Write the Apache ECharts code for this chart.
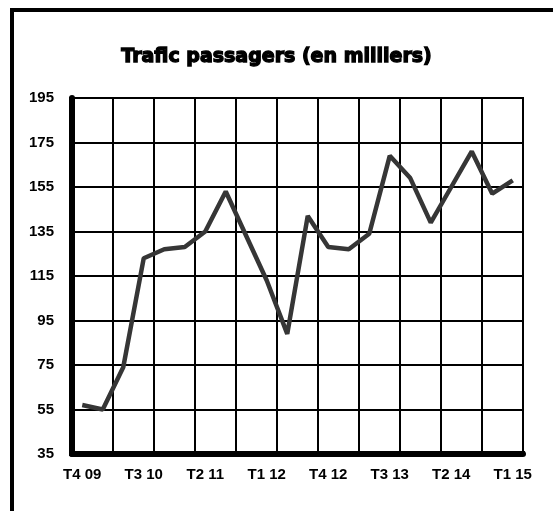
<!DOCTYPE html>
<html>
<head>
<meta charset="utf-8">
<script src="https://cdn.jsdelivr.net/npm/echarts@6/dist/echarts.min.js"></script>
<style>
  html, body { margin: 0; padding: 0; background: #fff; }
  #chart { width: 553px; height: 511px; }
</style>
</head>
<body>
<div id="chart"></div>
<script>
// trimestres T4 09 .. T1 15
const quarters = [
  'T4 09', 'T1 10', 'T2 10', 'T3 10', 'T4 10', 'T1 11', 'T2 11', 'T3 11',
  'T4 11', 'T1 12', 'T2 12', 'T3 12', 'T4 12', 'T1 13', 'T2 13', 'T3 13',
  'T4 13', 'T1 14', 'T2 14', 'T3 14', 'T4 14', 'T1 15'
]
const passengers = [
  57, 55, 74, 123, 127, 128, 135, 153, 133, 113, 89, 142,
  128, 127, 134, 169, 159, 139, 155, 171, 152, 158
]
const yMin = 35
const yMax = 195
const yStep = 20

const chart = echarts.init(document.getElementById('chart'))
const option = {
  animation: false,
  backgroundColor: '#fff',
  title: {
    text: 'Trafic passagers (en milliers)',
    left: 'center',
    top: 43,
    textStyle: {
      fontFamily: 'DejaVu Sans',
      fontWeight: 'bold',
      fontSize: 19,
      color: '#000',
      textBorderColor: '#000',
      textBorderWidth: 1.3
    }
  },
  graphic: [
    {
      type: 'rect',
      shape: { x: 12, y: 10, width: 700, height: 700 },
      style: { fill: 'none', stroke: '#000', lineWidth: 4 },
      silent: true
    }
  ],
  grid: {
    left: 72,
    top: 98,
    width: 451,
    height: 356,
    show: true,
    borderColor: '#000',
    borderWidth: 2
  },
  xAxis: {
    type: 'category',
    boundaryGap: true,
    data: quarters,
    axisLine: { lineStyle: { color: '#000', width: 6 } },
    axisTick: { show: true, inside: true, length: 3, interval: 1, lineStyle: { color: '#000', width: 3 } },
    axisLabel: {
      interval: 2,
      margin: 13,
      color: '#000',
      fontFamily: 'Liberation Sans',
      fontWeight: 'bold',
      fontSize: 15
    },
    splitLine: { show: true, interval: 1, lineStyle: { color: '#000', width: 2 } }
  },
  yAxis: {
    type: 'value',
    min: yMin,
    max: yMax,
    interval: yStep,
    axisLine: { show: true, lineStyle: { color: '#000', width: 6 } },
    axisTick: { show: true, length: 3, lineStyle: { color: '#000', width: 3 } },
    axisLabel: {
      margin: 18,
      color: '#000',
      fontFamily: 'Liberation Sans',
      fontWeight: 'bold',
      fontSize: 15
    },
    splitLine: { show: true, lineStyle: { color: '#000', width: 2 } }
  },
  series: [
    {
      name: 'Trafic passagers',
      type: 'line',
      data: passengers,
      symbol: 'none',
      lineStyle: { color: '#363636', width: 4.5 },
      z: 5
    }
  ]
}
chart.setOption(option)
</script>
</body>
</html>
